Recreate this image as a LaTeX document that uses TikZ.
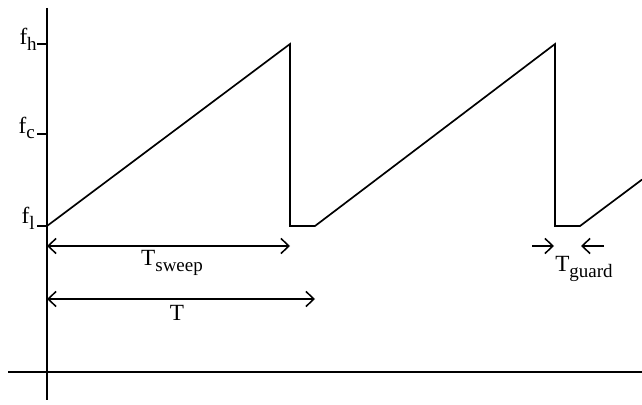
\documentclass[tikz,border=0pt]{standalone}
\usepackage{fontspec}
\setmainfont{Liberation Serif}
\usetikzlibrary{arrows.meta,calc,positioning}
\newcommand{\lbl}[2]{#1\raisebox{-0.25em}{\fontsize{13.5}{14}\selectfont #2}}
\tikzset{
  axisline/.style={line width=1.3pt},
  sawline/.style={line width=1.2pt, line join=miter},
  spanarrow/.style={line width=1.1pt, {Straight Barb[length=0.2cm,width=0.38cm]}-{Straight Barb[length=0.2cm,width=0.38cm]}},
  gaparrow/.style={line width=1.1pt, -{Straight Barb[length=0.2cm,width=0.38cm]}},
  every node/.style={font=\fontsize{16.5}{18}\selectfont}
}
\begin{document}
\begin{tikzpicture}[x=0.025cm,y=-0.025cm]
                \useasboundingbox (0,0) rectangle (642,405);
                % axes
                \draw[axisline] (47,8) -- (47,400);
                \draw[axisline] (8,372) -- (642,372);
                % ticks
                \coordinate (fh) at (47,44);
                \coordinate (fc) at (47,134);
                \coordinate (fl) at (47,226);
                \foreach \t in {fh,fc,fl}
                  \draw[axisline] (\t) -- ++(-10,0);
                \node[anchor=east, inner sep=0pt] at (37,39) {\lbl{f}{h}};
                \node[anchor=east, inner sep=0pt] at (35,128) {\lbl{f}{c}};
                \node[anchor=east, inner sep=0pt] at (35,218) {\lbl{f}{l}};
                % sawtooth
                \draw[sawline] (fl) -- (290,44) -- (290,226) -- (315,226)
                      -- (555,44) -- (555,226) -- (580,226) -- (642,179.6);
                % sweep time
                \draw[spanarrow] (47,246) -- (290,246);
                \node at (172,263) {\lbl{T}{sweep}};
                % period
                \draw[spanarrow] (47,299) -- (315,299);
                \node at (177,313) {T};
                % guard time
                \draw[gaparrow] (532,246) -- (554,246);
                \draw[gaparrow] (604,246) -- (581,246);
                \node at (584,269) {\lbl{T}{guard}};
              \end{tikzpicture}
\end{document}
